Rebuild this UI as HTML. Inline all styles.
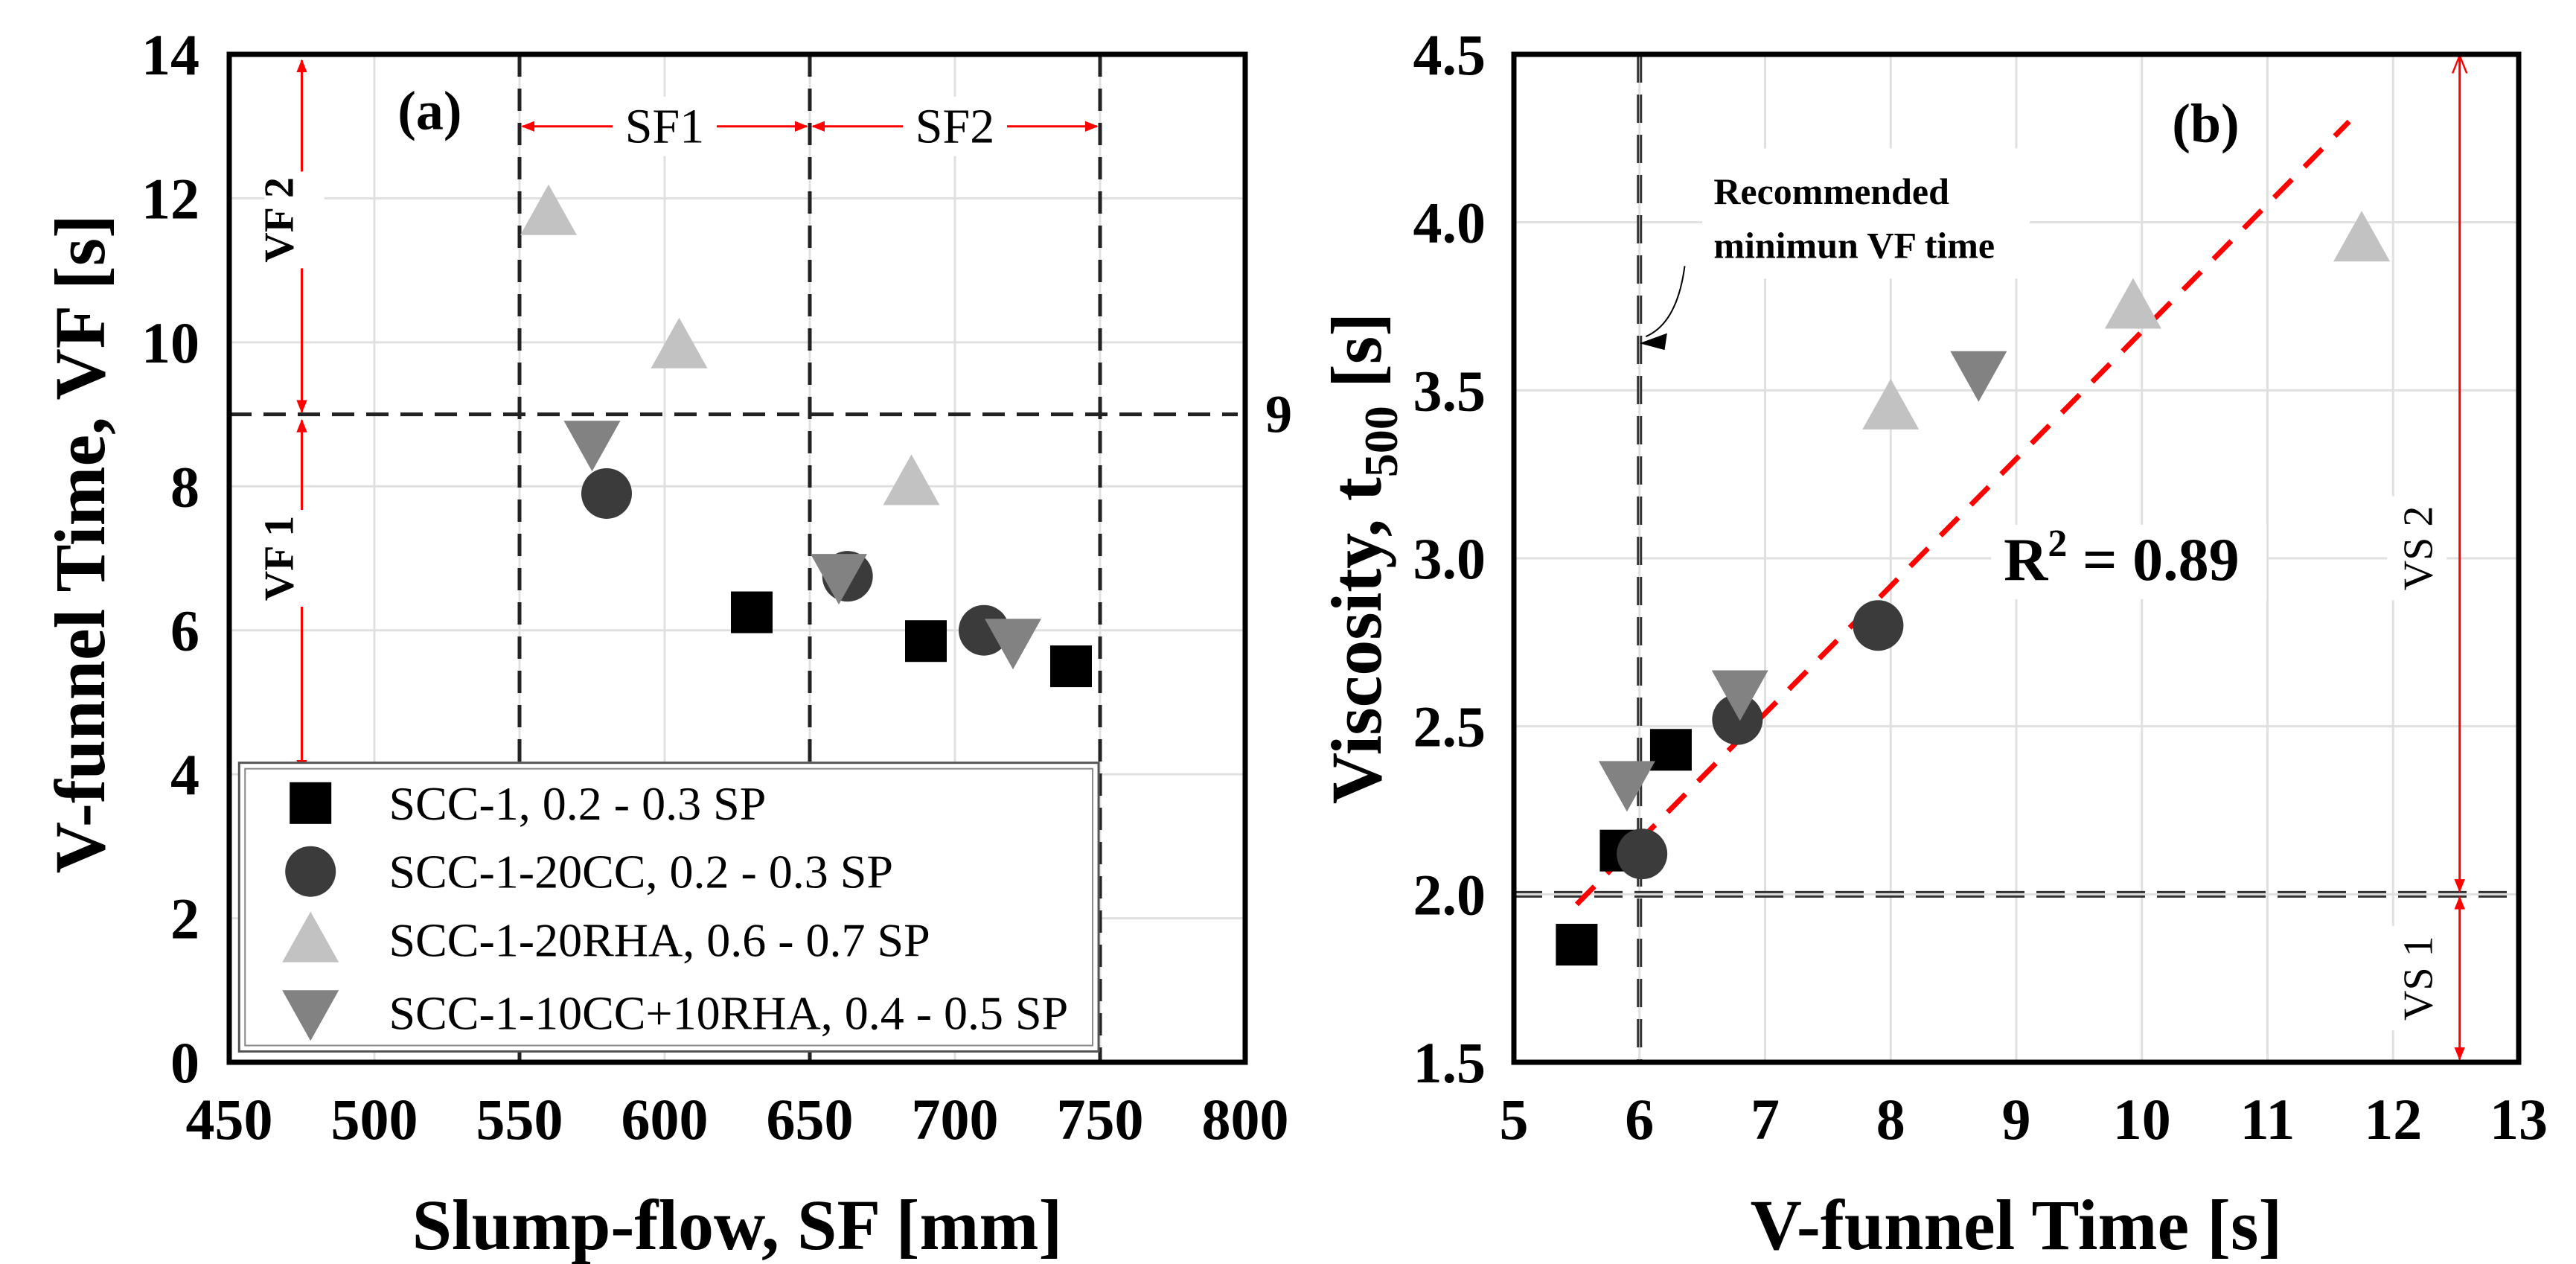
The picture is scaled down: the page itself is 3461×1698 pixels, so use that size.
<!DOCTYPE html>
<html><head><meta charset="utf-8"><style>
html,body{margin:0;padding:0;background:#fff}
svg{display:block}
text{font-family:"Liberation Serif",serif}
</style></head><body>
<svg id="fig" width="3461" height="1698" viewBox="0 0 3461 1698" xmlns="http://www.w3.org/2000/svg">
<defs>
<marker id="ar" viewBox="0 0 10 10" refX="9" refY="5" markerWidth="6" markerHeight="6" orient="auto-start-reverse"><path d="M0,1 L10,5 L0,9 Z" fill="#f00"/></marker>
<marker id="aro" viewBox="0 0 10 10" refX="9" refY="5" markerWidth="8" markerHeight="8" orient="auto-start-reverse"><path d="M0,1 L10,5 L0,9" fill="none" stroke="#f00" stroke-width="1"/></marker>
</defs>
<g id="pa"></g>
<g id="pb"></g>
</svg>
<script>
// ---- Panel (a) data ----
const aXTicks=[450,500,550,600,650,700,750,800];
const aYTicks=[0,2,4,6,8,10,12,14];
const aSquareX=[630,690,740], aSquareY=[6.25,5.85,5.5];
const aCircleX=[580,663,710], aCircleY=[7.9,6.75,6.0];
const aUpX=[560,605,685], aUpY=[11.8,9.95,8.05];
const aDownX=[575,660,720], aDownY=[8.6,6.75,5.85];
const aVLines=[550,650,750];
const aHLine=[9];
const legendLabels=["SCC-1, 0.2 - 0.3 SP","SCC-1-20CC, 0.2 - 0.3 SP","SCC-1-20RHA, 0.6 - 0.7 SP","SCC-1-10CC+10RHA, 0.4 - 0.5 SP"];
// ---- Panel (b) data ----
const bXTicks=[5,6,7,8,9,10,11,12,13];
const bYTicks=[1.5,2.0,2.5,3.0,3.5,4.0,4.5];
const bSquareX=[5.5,5.85,6.25], bSquareY=[1.85,2.13,2.43];
const bCircleX=[6.02,6.78,7.9], bCircleY=[2.12,2.52,2.8];
const bUpX=[8.0,9.93,11.75], bUpY=[3.45,3.75,3.95];
const bDownX=[5.9,6.8,8.7], bDownY=[2.33,2.6,3.55];
const fitX=[5.5,11.65], fitY=[1.97,4.3];

const NS="http://www.w3.org/2000/svg";
function mk(p,tag,at,txt){const e=document.createElementNS(NS,tag);for(const k in at)e.setAttribute(k,at[k]);if(txt!==undefined)e.textContent=txt;p.appendChild(e);return e;}
const TOP=73,BOT=1427;
const COL={sq:"#000",ci:"#3b3b3b",up:"#c2c2c2",dn:"#828282"};
function square(g,x,y){const e=mk(g,'rect',{x:x-28,y:y-28,width:56,height:56,fill:COL.sq});}
function circle(g,x,y){const e=mk(g,'circle',{cx:x,cy:y,r:34,fill:COL.ci});}
function up(g,x,y){const e=mk(g,'polygon',{points:`${x},${y-38} ${x-38},${y+30} ${x+38},${y+30}`,fill:COL.up});}
function down(g,x,y){const e=mk(g,'polygon',{points:`${x},${y+38} ${x-38},${y-30} ${x+38},${y-30}`,fill:COL.dn});}

// ===== Panel A =====
(function(){
const g=document.getElementById('pa');
const L=308,R=1673;
const sx=v=>L+(v-450)/350*(R-L), sy=v=>BOT-(v/14)*(BOT-TOP);
aXTicks.forEach(v=>{const e=mk(g,'line',{x1:sx(v),x2:sx(v),y1:TOP,y2:BOT,stroke:'#e0e0e0','stroke-width':3});});
aYTicks.forEach(v=>{const e=mk(g,'line',{x1:L,x2:R,y1:sy(v),y2:sy(v),stroke:'#e0e0e0','stroke-width':3});});
aVLines.forEach(v=>{const e=mk(g,'line',{x1:sx(v),x2:sx(v),y1:TOP,y2:BOT,stroke:'#222','stroke-width':5,'stroke-dasharray':'30 16'});});
aHLine.forEach(v=>{const e=mk(g,'line',{x1:L,x2:R-10,y1:sy(v),y2:sy(v),stroke:'#222','stroke-width':5,'stroke-dasharray':'30 16'});
 const t=mk(g,'text',{x:1700,y:sy(v)+24,'font-size':72,'font-weight':'bold'},String(v));});
// SF arrows
[[550,650,'SF1'],[650,750,'SF2']].forEach(([a,b,l])=>{const y=sy(13);
 const e=mk(g,'line',{x1:sx(a)+4,x2:sx(b)-4,y1:y,y2:y,stroke:'#f00','stroke-width':3,'marker-start':'url(#ar)','marker-end':'url(#ar)'});
 const m=(sx(a)+sx(b))/2;mk(g,'rect',{x:m-70,y:y-40,width:140,height:80,fill:'#fff'});
 const t=mk(g,'text',{x:m,y:y+22,'font-size':66,'text-anchor':'middle'},l);});
// VF arrows
[[14,9,'VF 2',11.7],[9,4,'VF 1',7]].forEach(([a,b,l,ly])=>{const x=sx(475);
 const e=mk(g,'line',{x1:x,x2:x,y1:sy(a)+8,y2:sy(b)-3,stroke:'#f00','stroke-width':3,'marker-start':'url(#ar)','marker-end':'url(#ar)'});
 mk(g,'rect',{x:x-50,y:sy(ly)-65,width:80,height:130,fill:'#fff'});
 const t=mk(g,'text',{x:0,y:0,'font-size':56,'font-weight':'bold','text-anchor':'middle',transform:`translate(${x-12},${sy(ly)}) rotate(-90)`},l);});
// data
aSquareX.forEach((v,i)=>square(g,sx(v),sy(aSquareY[i])));
aCircleX.forEach((v,i)=>circle(g,sx(v),sy(aCircleY[i])));
aUpX.forEach((v,i)=>up(g,sx(v),sy(aUpY[i])));
aDownX.forEach((v,i)=>down(g,sx(v),sy(aDownY[i])));
// legend
const lx1=sx(453.4),lx2=sx(749.5),ly1=sy(4.16),ly2=sy(0.15);
const lg=mk(g,'g',{});
mk(lg,'rect',{x:lx1,y:ly1,width:lx2-lx1,height:ly2-ly1,fill:'#fff',stroke:'#555','stroke-width':3});
mk(lg,'rect',{x:lx1+8,y:ly1+8,width:lx2-lx1-16,height:ly2-ly1-16,fill:'none',stroke:'#888','stroke-width':2});
const rows=[3.6,2.65,1.7,0.69],fns=[square,circle,up,down];
legendLabels.forEach((s,i)=>{fns[i](lg,sx(478),sy(rows[i]));
 const t=mk(lg,'text',{x:sx(505),y:sy(rows[i])+22,'font-size':64},s);});
// frame
const f=mk(g,'rect',{x:L,y:TOP,width:R-L,height:BOT-TOP,fill:'none',stroke:'#000','stroke-width':7});
const pl=mk(g,'text',{x:sx(508),y:sy(12.96),'font-size':74,'font-weight':'bold'},'(a)');
aXTicks.forEach(v=>{const t=mk(g,'text',{x:sx(v),y:1530,'font-size':78,'font-weight':'bold','text-anchor':'middle'},String(v));});
aYTicks.forEach(v=>{const t=mk(g,'text',{x:268,y:sy(v)+27,'font-size':78,'font-weight':'bold','text-anchor':'end'},String(v));});
const xt=mk(g,'text',{x:(L+R)/2,y:1678,'font-size':96,'font-weight':'bold','text-anchor':'middle'},'Slump-flow, SF [mm]');
const yt=mk(g,'text',{x:0,y:0,'font-size':96,'font-weight':'bold','text-anchor':'middle',transform:`translate(140,${sy(7.2)}) rotate(-90)`},'V-funnel Time, VF [s]');
})();

// ===== Panel B =====
(function(){
const g=document.getElementById('pb');
const L=2034,R=3384;
const sx=v=>L+(v-5)/8*(R-L), sy=v=>BOT-((v-1.5)/3)*(BOT-TOP);
bXTicks.forEach(v=>{const e=mk(g,'line',{x1:sx(v),x2:sx(v),y1:TOP,y2:BOT,stroke:'#e0e0e0','stroke-width':3});});
bYTicks.forEach(v=>{const e=mk(g,'line',{x1:L,x2:R,y1:sy(v),y2:sy(v),stroke:'#e0e0e0','stroke-width':3});});
// text boxes with white bg
mk(g,'rect',{x:sx(6.5),y:sy(4.22),width:440,height:175,fill:'#fff'});
mk(g,'rect',{x:sx(8.8),y:sy(3.1),width:370,height:100,fill:'#fff'});
// reference lines
[[-3],[3]].forEach(([d])=>{const e=mk(g,'line',{x1:L,x2:R,y1:sy(2.0)+d,y2:sy(2.0)+d,stroke:'#333','stroke-width':3,'stroke-dasharray':'38 16'});});
[[-2],[2]].forEach(([d])=>{const e=mk(g,'line',{x1:sx(6)+d,x2:sx(6)+d,y1:TOP,y2:BOT,stroke:'#333','stroke-width':3,'stroke-dasharray':'38 16'});});
// VS arrows
const ax=sx(12.53);
let e=mk(g,'line',{x1:ax,x2:ax,y1:sy(4.5)+4,y2:sy(2.0)-4,stroke:'#f00','stroke-width':3,'marker-start':'url(#aro)','marker-end':'url(#ar)'});
e=mk(g,'line',{x1:ax,x2:ax,y1:sy(2.0)+4,y2:sy(1.5)-4,stroke:'#f00','stroke-width':3,'marker-start':'url(#ar)','marker-end':'url(#ar)'});
[['VS 2',3.03],['VS 1',1.75]].forEach(([l,y])=>{mk(g,'rect',{x:sx(12.19)-40,y:sy(y)-70,width:80,height:140,fill:'#fff'});
 const t=mk(g,'text',{x:0,y:0,'font-size':56,'text-anchor':'middle',transform:`translate(${sx(12.19)+20},${sy(y)}) rotate(-90)`},l);});
// fit line
e=mk(g,'line',{x1:sx(fitX[0]),y1:sy(fitY[0]),x2:sx(fitX[1]),y2:sy(fitY[1]),stroke:'#f00','stroke-width':7,'stroke-dasharray':'34 24'});
// data
bSquareX.forEach((v,i)=>square(g,sx(v),sy(bSquareY[i])));
bCircleX.forEach((v,i)=>circle(g,sx(v),sy(bCircleY[i])));
bUpX.forEach((v,i)=>up(g,sx(v),sy(bUpY[i])));
bDownX.forEach((v,i)=>down(g,sx(v),sy(bDownY[i])));
// annotation
const an=mk(g,'text',{x:sx(6.59),y:sy(4.09)+16,'font-size':50,'font-weight':'bold'},'Recommended');
const an2=mk(g,'text',{x:sx(6.59),y:sy(3.93)+16,'font-size':50,'font-weight':'bold'},'minimun VF time');
e=mk(g,'path',{d:`M${sx(6.36)},${sy(3.87)} Q${sx(6.3)},${sy(3.7)} ${sx(6.05)},${sy(3.66)}`,fill:'none',stroke:'#000','stroke-width':2});
mk(g,'polygon',{points:`${sx(6.0)},${sy(3.64)} ${sx(6.22)},${sy(3.67)} ${sx(6.2)},${sy(3.62)}`,fill:'#000'});
const r2=mk(g,'text',{x:sx(8.9),y:sy(2.94)+2,'font-size':82,'font-weight':'bold'});
r2.innerHTML='R<tspan dy="-32" font-size="52">2</tspan><tspan dy="32"> = 0.89</tspan>';
const f=mk(g,'rect',{x:L,y:TOP,width:R-L,height:BOT-TOP,fill:'none',stroke:'#000','stroke-width':7});
const pl=mk(g,'text',{x:sx(10.24),y:sy(4.24),'font-size':74,'font-weight':'bold'},'(b)');
bXTicks.forEach(v=>{const t=mk(g,'text',{x:sx(v),y:1530,'font-size':78,'font-weight':'bold','text-anchor':'middle'},String(v));});
bYTicks.forEach(v=>{const t=mk(g,'text',{x:1996,y:sy(v)+27,'font-size':78,'font-weight':'bold','text-anchor':'end'},v.toFixed(1));});
const xt=mk(g,'text',{x:(L+R)/2,y:1678,'font-size':96,'font-weight':'bold','text-anchor':'middle'},'V-funnel Time [s]');
const yt=mk(g,'text',{x:0,y:0,'font-size':96,'font-weight':'bold','text-anchor':'middle',transform:`translate(1855,${sy(3.0)}) rotate(-90)`});
yt.innerHTML='Viscosity, t<tspan dy="22" font-size="64">500</tspan><tspan dy="-22"> [s]</tspan>';
})();
</script>
</body></html>
